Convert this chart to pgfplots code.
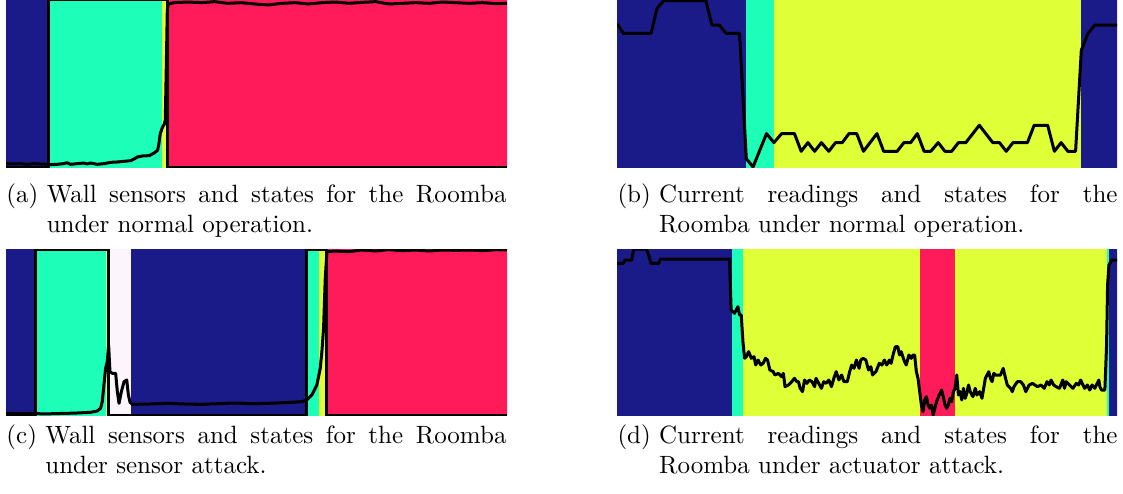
\documentclass[border=0pt]{standalone}
\usepackage{pgfplots}
\pgfplotsset{compat=1.18}
\definecolor{navy}{RGB}{27,26,137}
\definecolor{teal}{RGB}{29,255,185}
\definecolor{lime}{RGB}{223,255,55}
\definecolor{rose}{RGB}{255,27,90}
\definecolor{pale}{RGB}{252,245,252}
\pgfplotsset{panel/.style={scale only axis, axis lines=none, y dir=reverse, clip=true, no markers},
  sig/.style={black, line width=1.2pt, line join=round}}
\newcommand{\subcap}[2]{\parbox[t]{200pt}{\hyphenpenalty=10000\exhyphenpenalty=10000\setbox0\hbox{(#1)\ }\hangindent=\wd0\hangafter=1\noindent\box0 #2}}
\begin{document}
\begin{tikzpicture}
\path[use as bounding box] (0,0) rectangle (449.2pt,-197.6pt);
% (a)
\begin{axis}[panel, at={(2.4pt,0pt)}, anchor=north west, width=200.4pt, height=66.8pt,
  xmin=18, xmax=1512, ymin=0, ymax=500]
\addplot[fill=navy, draw=none] coordinates {(0,-20) (147,-20) (147,520) (0,520)};
\addplot[fill=teal, draw=none] coordinates {(147,-20) (484,-20) (484,520) (147,520)};
\addplot[fill=lime, draw=none] coordinates {(484,-20) (497,-20) (497,520) (484,520)};
\addplot[fill=rose, draw=none] coordinates {(497,-20) (1530,-20) (1530,520) (497,520)};
\addplot[sig] coordinates {(18,500) (145,500) (145,0) (500,0) (500,500) (1512,500)};
\addplot[sig] coordinates {(18,490) (40,491) (60,490) (80,492) (100,490) (120,491) (140,492) (150,493) (170,492) (190,490) (200,487) (210,492) (230,490) (250,488) (260,491) (270,488) (290,492) (310,490) (330,486) (350,485) (370,483) (390,481) (400,476) (410,470) (425,467) (445,466) (460,458) (470,450) (474,430) (478,400) (485,380) (490,372) (493,360) (496,200) (499,30) (502,12) (520,8) (560,6) (600,8) (640,5) (680,10) (720,8) (760,12) (800,15) (840,10) (880,8) (920,12) (960,8) (1000,6) (1040,10) (1080,7) (1120,5) (1160,12) (1200,10) (1240,8) (1280,10) (1320,6) (1360,8) (1400,10) (1440,8) (1480,11) (1512,10)};
\end{axis}
% (b)
\begin{axis}[panel, at={(246.8pt,0pt)}, anchor=north west, width=200pt, height=66.8pt,
  xmin=21, xmax=1506, ymin=0, ymax=500]
\addplot[fill=navy, draw=none] coordinates {(0,-20) (405,-20) (405,520) (0,520)};
\addplot[fill=teal, draw=none] coordinates {(405,-20) (486,-20) (486,520) (405,520)};
\addplot[fill=lime, draw=none] coordinates {(486,-20) (1400,-20) (1400,520) (486,520)};
\addplot[fill=navy, draw=none] coordinates {(1400,-20) (1530,-20) (1530,520) (1400,520)};
\addplot[sig] coordinates {(22,72) (40,100) (122,100) (140,25) (160,2) (285,2) (303,75) (325,75) (345,100) (385,100) (405,475) (425,500) (465,400) (487,427) (510,400) (548,400) (568,453) (588,427) (608,453) (628,427) (650,453) (670,427) (690,427) (710,400) (733,400) (753,453) (793,400) (813,453) (853,453) (873,427) (893,427) (913,400) (933,453) (953,453) (975,427) (995,453) (1015,453) (1035,427) (1057,427) (1097,375) (1137,427) (1157,427) (1177,453) (1197,427) (1240,427) (1260,375) (1300,375) (1320,453) (1340,427) (1360,453) (1383,453) (1400,150) (1420,100) (1440,75) (1507,75)};
\end{axis}
% (c)
\begin{axis}[panel, at={(2.4pt,-99.6pt)}, anchor=north west, width=200.4pt, height=66.4pt,
  xmin=18, xmax=1512, ymin=12, ymax=510]
\addplot[fill=navy, draw=none] coordinates {(0,-20) (107,-20) (107,530) (0,530)};
\addplot[fill=teal, draw=none] coordinates {(107,-20) (316,-20) (316,530) (107,530)};
\addplot[fill=lime, draw=none] coordinates {(316,-20) (328,-20) (328,530) (316,530)};
\addplot[fill=pale, draw=none] coordinates {(328,-20) (390,-20) (390,530) (328,530)};
\addplot[fill=navy, draw=none] coordinates {(390,-20) (916,-20) (916,530) (390,530)};
\addplot[fill=teal, draw=none] coordinates {(916,-20) (952,-20) (952,530) (916,530)};
\addplot[fill=lime, draw=none] coordinates {(952,-20) (970,-20) (970,530) (952,530)};
\addplot[fill=rose, draw=none] coordinates {(970,-20) (1530,-20) (1530,530) (970,530)};
\addplot[sig] coordinates {(18,510) (107,510) (107,12) (325,12) (325,510) (915,510) (915,12) (975,12) (975,510) (1512,510)};
\addplot[sig] coordinates {(18,505) (60,506) (100,505) (130,507) (160,506) (200,505) (230,504) (250,503) (270,502) (290,498) (300,490) (305,470) (310,420) (315,370) (320,350) (324,300) (328,380) (335,385) (345,385) (350,440) (355,475) (362,440) (370,410) (378,405) (383,450) (388,472) (395,478) (450,477) (500,475) (550,477) (600,478) (650,476) (700,474) (750,476) (800,475) (850,473) (900,470) (915,465) (930,450) (945,420) (955,370) (960,320) (965,250) (970,100) (975,20) (1000,18) (1040,20) (1080,15) (1120,18) (1160,14) (1200,17) (1240,15) (1280,18) (1320,15) (1360,16) (1400,15) (1440,17) (1480,14) (1512,15)};
\end{axis}
% (d)
\begin{axis}[panel, at={(246.8pt,-99.6pt)}, anchor=north west, width=200pt, height=66.4pt,
  xmin=21, xmax=1506, ymin=12, ymax=510]
\addplot[fill=navy, draw=none] coordinates {(0,-20) (362,-20) (362,530) (0,530)};
\addplot[fill=teal, draw=none] coordinates {(362,-20) (395,-20) (395,530) (362,530)};
\addplot[fill=lime, draw=none] coordinates {(395,-20) (920,-20) (920,530) (395,530)};
\addplot[fill=rose, draw=none] coordinates {(920,-20) (1025,-20) (1025,530) (920,530)};
\addplot[fill=lime, draw=none] coordinates {(1025,-20) (1477,-20) (1477,530) (1025,530)};
\addplot[fill=teal, draw=none] coordinates {(1477,-20) (1482,-20) (1482,530) (1477,530)};
\addplot[fill=navy, draw=none] coordinates {(1482,-20) (1530,-20) (1530,530) (1482,530)};
\addplot[sig] coordinates {(21,55) (40,55) (45,45) (65,45) (70,15) (75,12) (108,12) (115,30) (122,55) (145,55) (150,42) (355,42) (360,195) (370,205) (375,195) (380,185) (385,210) (390,210) (395,290) (400,340) (405,335) (412,320) (420,340) (428,335) (433,360) (440,345) (448,360) (455,355) (462,340) (468,345) (475,375) (485,380) (490,390) (500,385) (510,395) (515,385) (520,425) (530,420) (540,410) (548,400) (555,410) (560,410) (565,430) (572,440) (578,405) (585,415) (592,405) (600,410) (608,425) (612,400) (620,415) (628,430) (635,410) (642,415) (650,405) (658,425) (665,400) (672,380) (680,405) (688,390) (695,410) (705,410) (712,380) (718,360) (725,370) (732,345) (740,370) (745,345) (752,340) (760,345) (768,375) (775,365) (780,390) (790,380) (800,355) (808,360) (815,345) (822,360) (830,345) (835,355) (842,325) (848,305) (855,305) (860,330) (865,320) (870,335) (875,350) (880,360) (888,330) (895,340) (900,330) (905,330) (910,380) (915,400) (920,440) (925,480) (930,500) (935,465) (940,455) (945,480) (950,490) (955,480) (960,510) (965,490) (970,470) (978,450) (985,435) (990,455) (995,480) (1000,490) (1005,480) (1010,460) (1015,470) (1020,440) (1025,430) (1030,390) (1035,450) (1040,440) (1045,465) (1050,430) (1055,460) (1060,445) (1065,420) (1070,440) (1078,455) (1085,430) (1090,450) (1098,440) (1105,460) (1110,430) (1115,400) (1120,390) (1125,380) (1130,400) (1135,410) (1140,385) (1145,390) (1160,390) (1168,370) (1175,400) (1180,420) (1185,425) (1190,430) (1195,440) (1200,425) (1210,410) (1220,410) (1228,420) (1235,440) (1245,420) (1255,415) (1262,420) (1270,425) (1280,420) (1290,430) (1298,410) (1305,420) (1310,405) (1318,420) (1325,425) (1335,430) (1345,405) (1350,430) (1355,410) (1365,420) (1375,430) (1385,415) (1392,420) (1398,405) (1405,420) (1410,430) (1418,420) (1425,435) (1432,420) (1440,430) (1447,415) (1452,405) (1455,425) (1460,435) (1470,435) (1475,300) (1478,120) (1482,60) (1490,45) (1506,45)};
\end{axis}
% captions
\node[anchor=base west, inner sep=0pt] at (2.4pt,-81.2pt) {\subcap{a}{Wall sensors and states for the Roomba under normal operation.}};
\node[anchor=base west, inner sep=0pt] at (246.8pt,-81.2pt) {\subcap{b}{Current readings and states for the Roomba under normal operation.}};
\node[anchor=base west, inner sep=0pt] at (2.4pt,-177.2pt) {\subcap{c}{Wall sensors and states for the Roomba under sensor attack.}};
\node[anchor=base west, inner sep=0pt] at (246.8pt,-177.2pt) {\subcap{d}{Current readings and states for the Roomba under actuator attack.}};
\end{tikzpicture}
\end{document}
